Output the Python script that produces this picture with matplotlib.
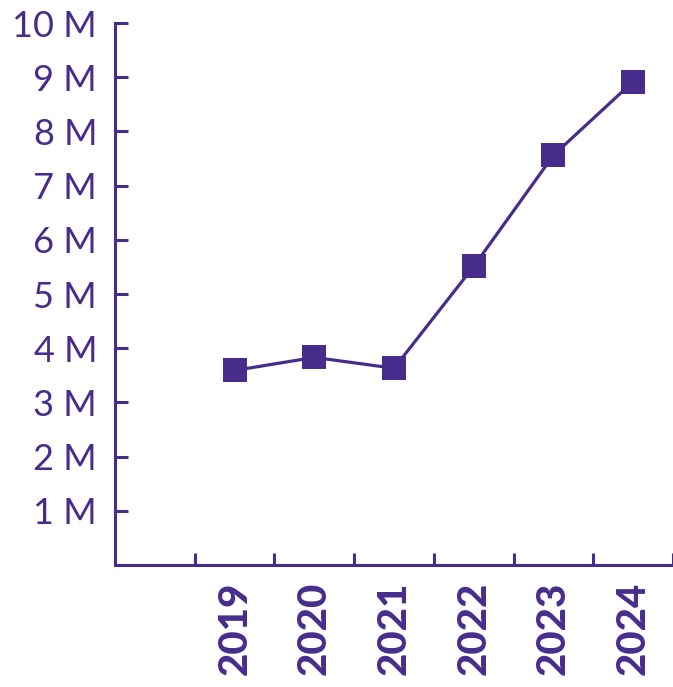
import numpy as np
import matplotlib
matplotlib.use('Agg')
import matplotlib.pyplot as plt

plt.rcParams['font.family'] = ['Lato', 'DejaVu Sans']

years = ['2019', '2020', '2021', '2022', '2023', '2024']
values = [3.59, 3.83, 3.63, 5.51, 7.56, 8.92]  # millions
ytick_vals = [1, 2, 3, 4, 5, 6, 7, 8, 9, 10]
ytick_labels = ['%d M' % v for v in ytick_vals]

purple = '#482C8C'

fig = plt.figure(figsize=(6.73, 6.87), dpi=100)
ax = fig.add_axes([0.171, 0.1776, 0.829, 0.7889])

xpos = np.arange(1, len(years) + 1)
ax.plot(xpos, values, color=purple, lw=2.3, marker='s', markersize=17,
        markeredgewidth=0, clip_on=False, zorder=3)

ax.set_xlim(-0.5, 6.5)
ax.set_ylim(0, 10)

for side in ['top', 'right']:
    ax.spines[side].set_visible(False)
for side in ['left', 'bottom']:
    ax.spines[side].set_color(purple)
    ax.spines[side].set_linewidth(2.2)

ax.set_yticks(ytick_vals)
ax.set_yticklabels(ytick_labels)
ax.tick_params(axis='y', direction='in', length=9, width=2.2, color=purple,
               labelcolor=purple, labelsize=26, pad=13)

# tick marks on slot boundaries, labels on slot centres
ax.set_xticks(np.arange(0.5, 7.0, 1.0))
ax.set_xticklabels([''] * 7)
ax.set_xticks(xpos, minor=True)
ax.set_xticklabels(years, minor=True, rotation=90, fontweight='black')
ax.tick_params(axis='x', which='major', direction='in', length=9, width=2.2,
               color=purple)
ax.tick_params(axis='x', which='minor', length=0, labelcolor=purple,
               labelsize=29, pad=12)

fig.savefig('out.png', dpi=100)
